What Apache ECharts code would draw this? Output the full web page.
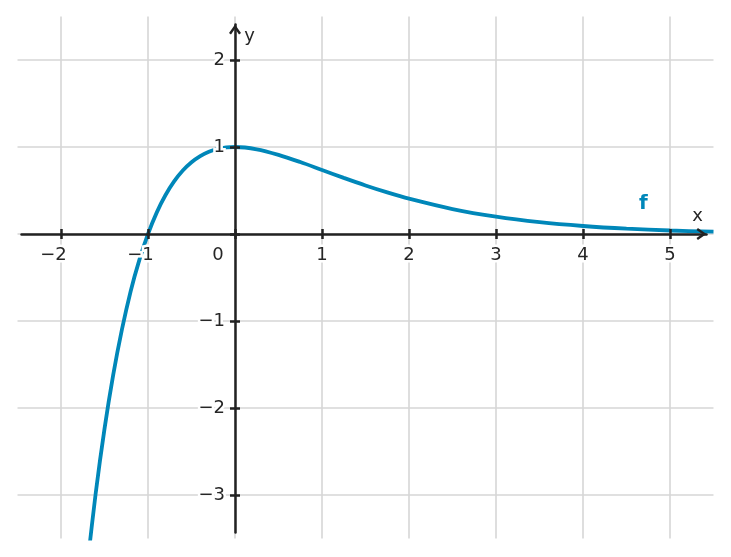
<!DOCTYPE html>
<html>
<head>
<meta charset="utf-8">
<script src="https://cdn.jsdelivr.net/npm/echarts@6/dist/echarts.min.js"></script>
<style>
html,body{margin:0;padding:0;background:#fff;}
#c{width:731px;height:557px;}
</style>
</head>
<body>
<div id="c"></div>
<script>
// ---- data ----
const curveName = 'f';
const xs = [-1.7,-1.6,-1.5,-1.4,-1.3,-1.2,-1.1,-1.0,-0.9,-0.8,-0.7,-0.6,-0.5,-0.4,-0.3,-0.2,-0.1,0,
            0.25,0.5,0.75,1,1.25,1.5,1.75,2,2.5,3,3.5,4,4.5,5,5.5];
const ys = [-3.83,-2.97,-2.24,-1.62,-1.10,-0.66,-0.30,0,0.246,0.445,0.604,0.729,0.824,0.895,0.945,0.977,0.995,1,
            0.974,0.910,0.827,0.736,0.645,0.558,0.478,0.406,0.287,0.199,0.136,0.092,0.061,0.040,0.027];
const xTicks = [-2,-1,0,1,2,3,4,5];
const yTicks = [-3,-2,-1,0,1,2];
const xTickLabels = [-2,-1,0,1,2,3,4,5];
const yTickLabels = [-3,-2,-1,1,2];
const curveLabelAt = [4.7, 0.345];
const xRange = [-2.5, 5.5];
const yRange = [-3.5, 2.5];

// ---- layout / style ----
const W = 731, H = 557, PX = 87;
const FONT = 'DejaVu Sans';
const TXT = '#262626';
const AX = '#222222';
const GRIDC = '#d6d6d6';
const BLUE = '#0087b9';
const insL = 4, insR = 7, insT = 8, insB = 6;
const G = {left: 17.5, right: 17.5, top: 16.5, bottom: 18.5};
const x0px = G.left + (0 - xRange[0]) * PX;   // pixel x of value 0
const y0px = G.top + (yRange[1] - 0) * PX;    // pixel y of value 0
const arrow = 'path://M0,8.6 L6,0 L12,8.6 L10.03,9.97 L6,4.2 L1.97,9.97 Z';

const minus = v => (v < 0 ? '\u2212' + Math.abs(v) : String(v));
const labelBase = {fontFamily: FONT, fontSize: 18, color: TXT, textBorderColor: '#fff', textBorderWidth: 5};
const hidden = {show: false};

const points = xs.map((x, i) => [x, ys[i]]);
const xAxRange = {min: xRange[0] + insL / PX, max: xRange[1] - insR / PX};
const yAxRange = {min: yRange[0] + insB / PX, max: yRange[1] - insT / PX};

const chart = echarts.init(document.getElementById('c'), null, {renderer: 'canvas'});
chart.setOption({
  animation: false,
  backgroundColor: '#fff',
  grid: [
    {left: G.left, right: G.right, top: G.top, bottom: G.bottom, outerBoundsMode: 'none', containLabel: false},
    // x axis strip: its bottom edge is the y=0 line
    {left: G.left + insL, right: G.right + insR, top: G.top, bottom: H - y0px, outerBoundsMode: 'none', containLabel: false},
    // y axis strip: its left edge is the x=0 line
    {left: x0px, right: G.right, top: G.top + insT, bottom: G.bottom + insB, outerBoundsMode: 'none', containLabel: false}
  ],
  xAxis: [
    { // grid lines
      type: 'value', gridIndex: 0, min: xRange[0], max: xRange[1],
      axisLine: hidden, axisLabel: hidden,
      axisTick: {show: false, customValues: xTicks},
      splitLine: {show: true, lineStyle: {color: GRIDC, width: 1.6}}
    },
    { // axis line, outward ticks, labels
      type: 'value', gridIndex: 1, position: 'bottom', z: 5, min: xAxRange.min, max: xAxRange.max,
      name: '{n|x}', nameLocation: 'end', nameGap: -9, nameMoveOverlap: false,
      nameTextStyle: {fontFamily: FONT, fontSize: 18, color: TXT, align: 'center', verticalAlign: 'bottom',
        rich: {n: {fontFamily: FONT, fontSize: 18, color: TXT, padding: [0, 0, 9, 0]}}},
      axisLine: {show: true, onZero: false, symbol: ['none', arrow], symbolSize: [12, 10], symbolOffset: [0, -5],
                 lineStyle: {color: AX, width: 2.5}},
      axisTick: {show: true, inside: false, length: 5, customValues: xTicks, lineStyle: {color: AX, width: 2.5}},
      axisLabel: {show: true, margin: 12.5, customValues: xTickLabels,
        formatter: v => (v === 0 ? '{z|0}' : (v < 0 ? '{n|' + minus(v) + '}' : '{p|' + v + '}')),
        rich: {
          z: Object.assign({}, labelBase, {padding: [0, 34, 0, 0]}),
          n: Object.assign({}, labelBase, {padding: [0, 15, 0, 0]}),
          p: Object.assign({}, labelBase)
        }
      },
      splitLine: hidden
    },
    { // inward ticks
      type: 'value', gridIndex: 1, position: 'bottom', z: 5, min: xAxRange.min, max: xAxRange.max,
      axisLine: {show: false, onZero: false},
      axisTick: {show: true, inside: true, length: 5, customValues: xTicks, lineStyle: {color: AX, width: 2.5}},
      axisLabel: hidden, splitLine: hidden
    },
    { // placeholder for the y strip
      type: 'value', gridIndex: 2, show: false, min: 0, max: 1
    }
  ],
  yAxis: [
    {
      type: 'value', gridIndex: 0, min: yRange[0], max: yRange[1],
      axisLine: hidden, axisLabel: hidden,
      axisTick: {show: false, customValues: yTicks},
      splitLine: {show: true, lineStyle: {color: GRIDC, width: 1.6}}
    },
    {
      type: 'value', gridIndex: 2, position: 'left', z: 5, min: yAxRange.min, max: yAxRange.max,
      name: 'y', nameLocation: 'end', nameGap: -11.6, nameMoveOverlap: false,
      nameTextStyle: {fontFamily: FONT, fontSize: 18, color: TXT, align: 'center', verticalAlign: 'middle', padding: [0, 0, 0, 29]},
      axisLine: {show: true, onZero: false, symbol: ['none', arrow], symbolSize: [12, 10], symbolOffset: [0, -5],
                 lineStyle: {color: AX, width: 2.5}},
      axisTick: {show: true, inside: false, length: 5, customValues: yTicks, lineStyle: {color: AX, width: 2.5}},
      axisLabel: Object.assign({show: true, margin: 10, customValues: yTickLabels, formatter: v => minus(v)}, labelBase),
      splitLine: hidden
    },
    {
      type: 'value', gridIndex: 2, position: 'left', z: 5, min: yAxRange.min, max: yAxRange.max,
      axisLine: {show: false, onZero: false},
      axisTick: {show: true, inside: true, length: 5, customValues: yTicks, lineStyle: {color: AX, width: 2.5}},
      axisLabel: hidden, splitLine: hidden
    },
    { // placeholder for the x strip
      type: 'value', gridIndex: 1, show: false, min: 0, max: 1
    }
  ],
  series: [
    {
      type: 'line', name: curveName, xAxisIndex: 0, yAxisIndex: 0,
      data: points, showSymbol: false, smooth: 0.3, z: 2,
      lineStyle: {color: BLUE, width: 3.8}
    },
    {
      type: 'scatter', xAxisIndex: 0, yAxisIndex: 0, z: 6, silent: true,
      data: [curveLabelAt], symbolSize: 1, itemStyle: {color: 'rgba(0,0,0,0)', opacity: 1},
      label: {show: true, position: [0, 0], align: 'center', verticalAlign: 'middle', formatter: curveName, opacity: 1,
              fontFamily: FONT, fontSize: 20, fontWeight: 'bold', color: BLUE, textBorderWidth: 0}
    }
  ]
});
</script>
</body>
</html>
